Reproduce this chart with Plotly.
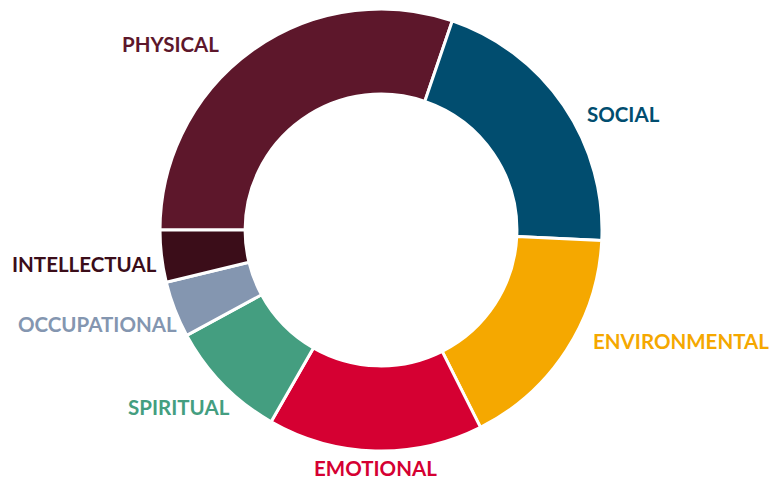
import plotly.graph_objects as go

# Wellness dimensions (share of ring, %)
labels = ['PHYSICAL', 'SOCIAL', 'ENVIRONMENTAL', 'EMOTIONAL',
          'SPIRITUAL', 'OCCUPATIONAL', 'INTELLECTUAL']
values = [30.2, 20.5, 16.8, 15.7, 8.8, 4.1, 3.8]
colors = ['#5d172b', '#014d6f', '#f5a800', '#d50032',
          '#449e80', '#8496b0', '#3b0d19']

W, H = 775, 485

# label anchor points in pixels (centre of text)
label_pos = {
    'PHYSICAL': (170, 44),
    'SOCIAL': (623, 114),
    'ENVIRONMENTAL': (681, 341),
    'EMOTIONAL': (375, 468),
    'SPIRITUAL': (179, 407),
    'OCCUPATIONAL': (97, 324),
    'INTELLECTUAL': (84, 264),
}

fig = go.Figure(go.Pie(
    labels=labels,
    values=values,
    hole=0.615,
    sort=False,
    direction='clockwise',
    rotation=270,
    marker=dict(colors=colors, line=dict(color='white', width=3)),
    textinfo='none',
    hoverinfo='label+percent',
    domain=dict(x=[160 / W, 602 / W], y=[1 - 451 / H, 1 - 9 / H]),
))

for name, color in zip(labels, colors):
    px_, py_ = label_pos[name]
    fig.add_annotation(
        x=px_ / W, y=1 - py_ / H, xref='paper', yref='paper',
        text=f'<b>{name}</b>', showarrow=False,
        font=dict(family='Lato, sans-serif', size=20.5, color=color),
        xanchor='center', yanchor='middle',
    )

fig.update_layout(
    width=W, height=H,
    margin=dict(l=0, r=0, t=0, b=0),
    paper_bgcolor='white',
    plot_bgcolor='white',
    showlegend=False,
)

# drop the default body margin so the figure sits at the window corner
fig.write_html('out.html', config={'displayModeBar': False},
               post_script='document.body.style.margin="0";')
